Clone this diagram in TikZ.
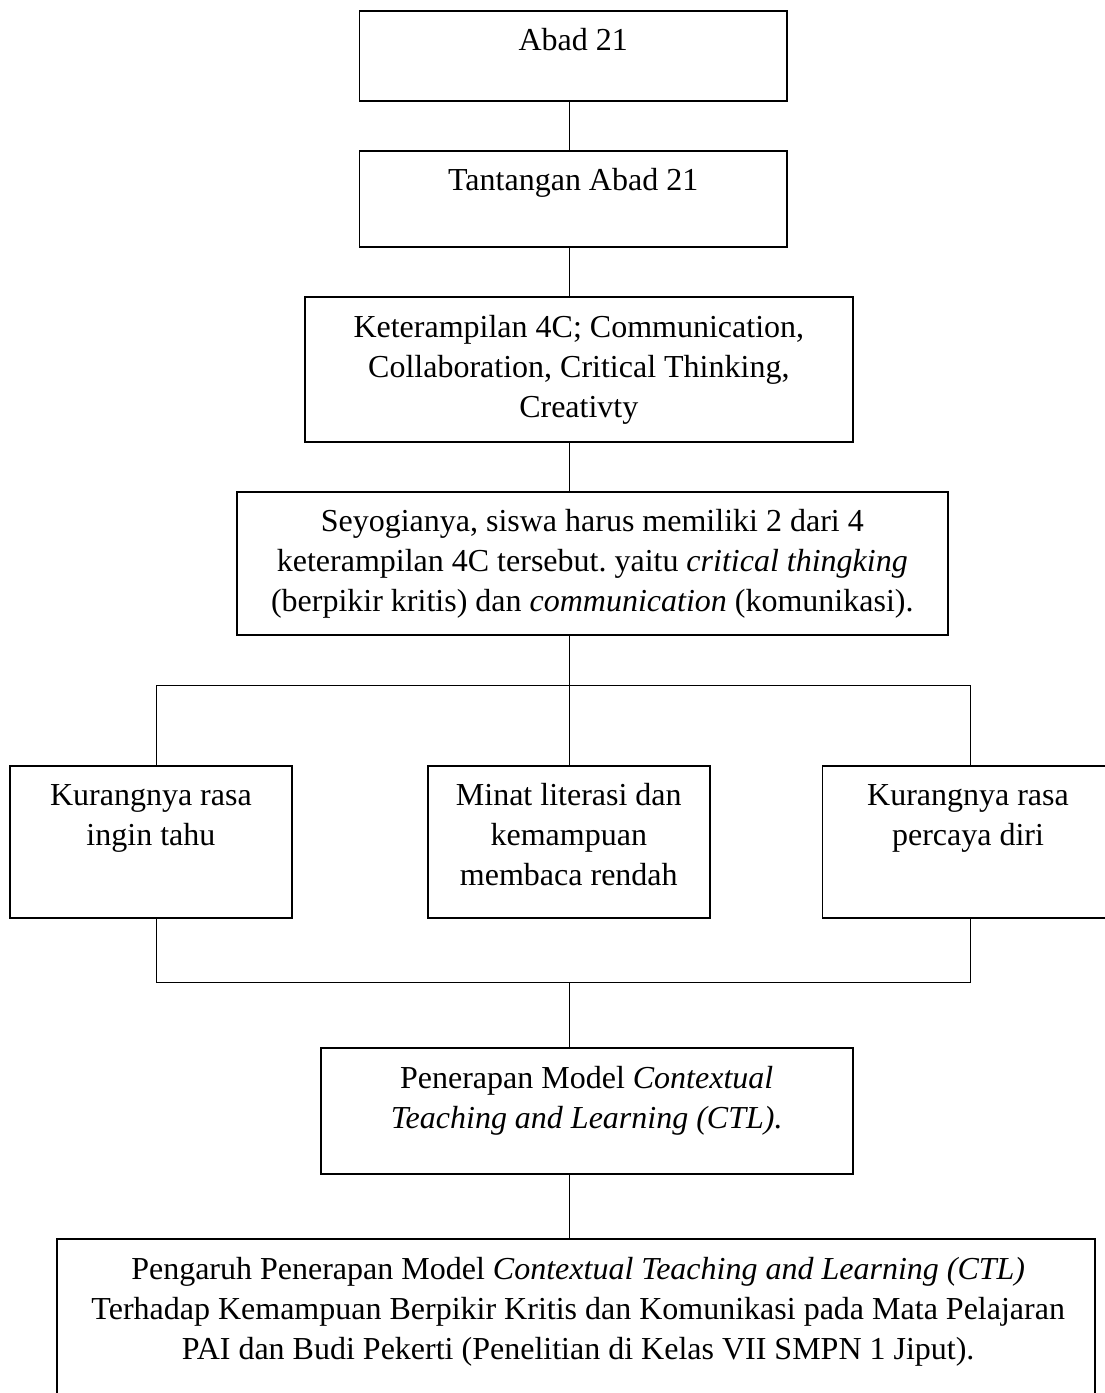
\documentclass[tikz,border=0pt]{standalone}
\usepackage{fontspec}
\setmainfont{Liberation Serif}
\frenchspacing
\begin{document}
\begin{tikzpicture}[x=1pt,y=-1pt,
  box/.style={draw, line width=1.8pt, inner sep=0pt, outer sep=0pt, anchor=north west, rectangle},
  conn/.style={line width=1.4pt},
  txt/.style={anchor=north, inner sep=0pt, align=center, font=\fontsize{32}{40}\selectfont}]
\useasboundingbox (0,0) rectangle (1105,1393);
\clip (0,0) rectangle (1105,1393);
\newcommand{\fs}{\rule{0pt}{29.5pt}}
% boxes
\node[box, minimum width=427.5pt, minimum height=90pt] (b1) at (359.5,10.7) {};
\node[box, minimum width=427.5pt, minimum height=96.6pt] (b2) at (359.5,150.7) {};
\node[box, minimum width=547.7pt, minimum height=144.4pt] (b3) at (305,297.3) {};
\node[box, minimum width=711.1pt, minimum height=143.3pt] (b4) at (236.8,491.7) {};
\node[box, minimum width=281.9pt, minimum height=151.7pt] (bL) at (9.9,766) {};
\node[box, minimum width=281.9pt, minimum height=151.7pt] (bM) at (427.8,766) {};
\node[box, minimum width=291pt, minimum height=151.7pt] (bR) at (822.4,766) {};
\node[box, minimum width=532.1pt, minimum height=126pt] (b5) at (320.6,1048.3) {};
\node[box, minimum width=1037.7pt, minimum height=200pt] (b6) at (57.3,1239.3) {};
% texts
\node[txt] (t1) at (573.2,20.7) {\fs Abad 21};
\node[txt] (t2) at (573.2,160.7) {\fs Tantangan Abad 21};
\node[txt] (t3) at (578.8,307.3) {\fs Keterampilan 4C; Communication,\\Collaboration, Critical Thinking,\\Creativty};
\node[txt] (t4) at (592.3,501.7) {\fs Seyogianya, siswa harus memiliki 2 dari 4\\keterampilan 4C tersebut. yaitu \textit{critical thingking}\\(berpikir kritis) dan \textit{communication} (komunikasi).};
\node[txt] (tL) at (150.9,776) {\fs Kurangnya rasa\\ingin tahu};
\node[txt] (tM) at (568.8,776) {\fs Minat literasi dan\\kemampuan\\membaca rendah};
\node[txt] (tR) at (968,776) {\fs Kurangnya rasa\\percaya diri};
\node[txt] (t5) at (586.7,1058.3) {\fs Penerapan Model \textit{Contextual}\\\textit{Teaching and Learning (CTL).}};
\node[txt] (t6) at (578.2,1249.3) {\fs Pengaruh Penerapan Model \textit{Contextual Teaching and Learning (CTL)}\\Terhadap Kemampuan Berpikir Kritis dan Komunikasi pada Mata Pelajaran\\PAI dan Budi Pekerti (Penelitian di Kelas VII SMPN 1 Jiput).};
% connector coordinates
\coordinate (tr) at (569.4,0);
\coordinate (jt) at (569.4,685.7);
\coordinate (jl) at (156.4,685.7);
\coordinate (jr) at (970.4,685.7);
\coordinate (kt) at (569.4,982.3);
\coordinate (kl) at (156.4,982.3);
\coordinate (kr) at (970.4,982.3);
% connectors
\draw[conn] (b1.south -| tr) -- (b2.north -| tr);
\draw[conn] (b2.south -| tr) -- (b3.north -| tr);
\draw[conn] (b3.south -| tr) -- (b4.north -| tr);
\draw[conn] (b4.south -| tr) -- (jt);
\draw[conn] (bL.north -| jl) -- (jl) -- (jr) -- (bR.north -| jr);
\draw[conn] (jt) -- (bM.north -| jt);
\draw[conn] (bL.south -| kl) -- (kl) -- (kr) -- (bR.south -| kr);
\draw[conn] (kt) -- (b5.north -| kt);
\draw[conn] (b5.south -| tr) -- (b6.north -| tr);
\end{tikzpicture}
\end{document}
